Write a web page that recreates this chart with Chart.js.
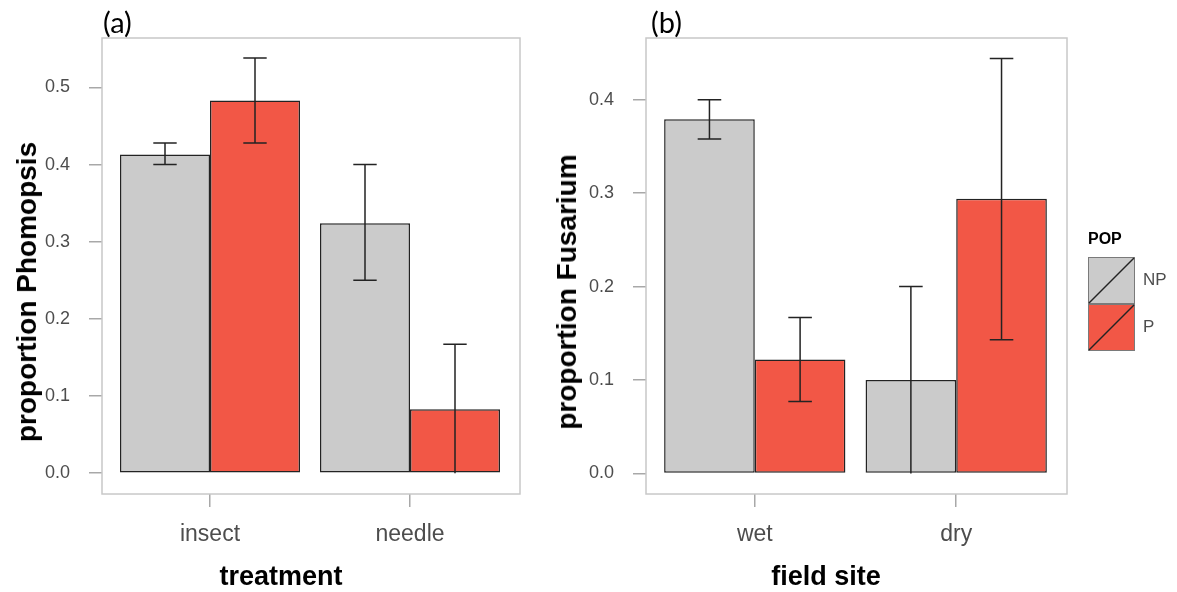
<!DOCTYPE html>
<html>
<head>
<meta charset="utf-8">
<title>Phomopsis / Fusarium</title>
<script src="https://cdn.jsdelivr.net/npm/chart.js@4.4.0/dist/chart.umd.min.js"></script>
<style>
  body { margin: 0; width: 1177px; height: 592px; background: #fff; position: relative; overflow: hidden; font-family: "Liberation Sans", Arial, sans-serif; }
  .panel { position: absolute; top: 0; height: 592px; }
  .tag { position: absolute; font-family: Lato, sans-serif; font-size: 29px; line-height: 1; color: #000; }
  .axis-title { position: absolute; font-weight: bold; font-size: 27px; line-height: 1; color: #000; white-space: nowrap; }
  .axis-title.x { transform: translate(-50%, -50%); }
  .axis-title.y { font-size: 28px; transform: translate(-50%, -50%) rotate(-90deg); }
</style>
</head>
<body>
<div class="panel" style="left:0;width:560px"><canvas id="chartA" width="560" height="592"></canvas></div>
<div class="panel" style="left:560px;width:617px"><canvas id="chartB" width="617" height="592"></canvas></div>

<div class="tag" style="left:103px;top:7px">(a)</div>
<div class="tag" style="left:651px;top:7px">(b)</div>
<div class="axis-title y" style="left:27px;top:292px">proportion Phomopsis</div>
<div class="axis-title x" style="left:281px;top:576px">treatment</div>
<div class="axis-title y" style="left:567px;top:292px">proportion Fusarium</div>
<div class="axis-title x" style="left:826px;top:576px">field site</div>

<script>
// Panel (a): Phomopsis by treatment
const treatmentLabels = ['insect', 'needle'];
const phomopsisNP = [0.413, 0.324];
const phomopsisNPLow = [0.400, 0.250];
const phomopsisNPHigh = [0.428, 0.400];
const phomopsisP = [0.483, 0.083];
const phomopsisPLow = [0.428, 0.000];
const phomopsisPHigh = [0.538, 0.167];
const phomopsisTicks = [0.0, 0.1, 0.2, 0.3, 0.4, 0.5];

// Panel (b): Fusarium by field site
const siteLabels = ['wet', 'dry'];
const fusariumNP = [0.379, 0.100];
const fusariumNPLow = [0.358, 0.000];
const fusariumNPHigh = [0.400, 0.200];
const fusariumP = [0.122, 0.294];
const fusariumPLow = [0.077, 0.143];
const fusariumPHigh = [0.167, 0.444];
const fusariumTicks = [0.0, 0.1, 0.2, 0.3, 0.4];

// Legend
const popTitle = 'POP';
const popLabels = ['NP', 'P'];

const NP_COLOR = '#cbcbcb';
const P_COLOR = '#f25746';
const EDGE_COLOR = '#232323';
const FRAME_COLOR = '#c8c8c8';
const TICK_COLOR = '#a8a8a8';
const TEXT_COLOR = '#4d4d4d';
const FONT = '"Liberation Sans", Arial, sans-serif';

// Frame around the plot area
const framePlugin = {
  id: 'frame',
  beforeDatasetsDraw(chart) {
    const { ctx, chartArea: a } = chart;
    ctx.save();
    ctx.strokeStyle = FRAME_COLOR;
    ctx.lineWidth = 1.5;
    ctx.strokeRect(a.left, a.top, a.right - a.left, a.bottom - a.top);
    ctx.restore();
  }
};

// Error bars drawn on top of each bar
const errorBarPlugin = {
  id: 'errorBars',
  afterDatasetsDraw(chart) {
    const ctx = chart.ctx;
    const yScale = chart.scales.y;
    ctx.save();
    ctx.strokeStyle = EDGE_COLOR;
    ctx.lineWidth = 1.5;
    chart.data.datasets.forEach((ds, i) => {
      const meta = chart.getDatasetMeta(i);
      meta.data.forEach((bar, j) => {
        const yLow = yScale.getPixelForValue(ds.errLow[j]);
        const yHigh = yScale.getPixelForValue(ds.errHigh[j]);
        const half = bar.width * 0.13;
        ctx.beginPath();
        ctx.moveTo(bar.x, yLow);
        ctx.lineTo(bar.x, yHigh);
        ctx.moveTo(bar.x - half, yHigh);
        ctx.lineTo(bar.x + half, yHigh);
        // cap at zero sits on the bar's own bottom edge
        if (ds.errLow[j] > 0) {
          ctx.moveTo(bar.x - half, yLow);
          ctx.lineTo(bar.x + half, yLow);
        }
        ctx.stroke();
      });
    });
    ctx.restore();
  }
};

// Legend (POP) to the right of panel (b)
const popLegendPlugin = {
  id: 'popLegend',
  afterDraw(chart) {
    const ctx = chart.ctx;
    const left = chart.chartArea.right + 21;
    const top = 257;
    const size = 47;
    ctx.save();
    ctx.fillStyle = '#000';
    ctx.font = 'bold 16px ' + FONT;
    ctx.textBaseline = 'middle';
    ctx.textAlign = 'left';
    ctx.fillText(popTitle, left, top - 17);
    chart.data.datasets.forEach((ds, i) => {
      const y = top + i * size;
      ctx.fillStyle = ds.backgroundColor;
      ctx.fillRect(left, y, size, size);
      ctx.strokeStyle = '#7a7a7a';
      ctx.lineWidth = 1;
      ctx.strokeRect(left + 0.5, y + 0.5, size - 1, size - 1);
      ctx.strokeStyle = EDGE_COLOR;
      ctx.lineWidth = 1.5;
      ctx.beginPath();
      ctx.moveTo(left + 1, y + size - 1);
      ctx.lineTo(left + size - 1, y + 1);
      ctx.stroke();
      ctx.fillStyle = TEXT_COLOR;
      ctx.font = '17px ' + FONT;
      ctx.fillText(ds.label, left + size + 8, y + size / 2);
    });
    ctx.restore();
  }
};

function toPoints(values) {
  return values.map((v, i) => ({ x: i + 1, y: v }));
}

function buildPanel(canvasId, cats, np, npLow, npHigh, p, pLow, pHigh, yTicks, yMin, yMax, box, extraPlugins) {
  const ctx = document.getElementById(canvasId).getContext('2d');
  return new Chart(ctx, {
    type: 'bar',
    data: {
      datasets: [
        { label: popLabels[0], data: toPoints(np), errLow: npLow, errHigh: npHigh,
          backgroundColor: NP_COLOR, borderColor: EDGE_COLOR, borderWidth: 1.5, borderSkipped: false },
        { label: popLabels[1], data: toPoints(p), errLow: pLow, errHigh: pHigh,
          backgroundColor: P_COLOR, borderColor: EDGE_COLOR, borderWidth: 1.5, borderSkipped: false }
      ]
    },
    options: {
      responsive: false,
      animation: false,
      layout: { padding: { left: 0, right: box.right, top: box.top, bottom: 0 } },
      datasets: { bar: { categoryPercentage: 0.9, barPercentage: 1.0 } },
      plugins: { legend: { display: false }, tooltip: { enabled: false } },
      scales: {
        x: {
          type: 'linear',
          min: 0.46,
          max: 2.55,
          offset: false,
          afterBuildTicks: s => { s.ticks = cats.map((c, i) => ({ value: i + 1 })); },
          afterFit: s => { s.height = box.xAxisHeight; },
          grid: { offset: false, drawOnChartArea: false, drawTicks: true, tickLength: 13, tickColor: TICK_COLOR, lineWidth: 1.5 },
          border: { display: false },
          ticks: {
            callback: v => cats[Math.round(v) - 1],
            color: TEXT_COLOR, font: { family: FONT, size: 23 }, padding: 14,
            maxRotation: 0, autoSkip: false
          }
        },
        y: {
          min: yMin,
          max: yMax,
          afterBuildTicks: s => { s.ticks = yTicks.map(v => ({ value: v })); },
          afterFit: s => { s.width = box.yAxisWidth; },
          grid: { drawOnChartArea: false, drawTicks: true, tickLength: 13, tickColor: TICK_COLOR, lineWidth: 1.5 },
          border: { display: false },
          ticks: {
            callback: v => v.toFixed(1),
            color: TEXT_COLOR, font: { family: FONT, size: 18 }, padding: 19
          }
        }
      }
    },
    plugins: [framePlugin, errorBarPlugin].concat(extraPlugins || [])
  });
}

buildPanel('chartA', treatmentLabels,
  phomopsisNP, phomopsisNPLow, phomopsisNPHigh,
  phomopsisP, phomopsisPLow, phomopsisPHigh,
  phomopsisTicks, -0.027, 0.564,
  { right: 40, top: 38, yAxisWidth: 102, xAxisHeight: 98 });

buildPanel('chartB', siteLabels,
  fusariumNP, fusariumNPLow, fusariumNPHigh,
  fusariumP, fusariumPLow, fusariumPHigh,
  fusariumTicks, -0.022, 0.466,
  { right: 110, top: 38, yAxisWidth: 86, xAxisHeight: 98 },
  [popLegendPlugin]);
</script>
</body>
</html>
